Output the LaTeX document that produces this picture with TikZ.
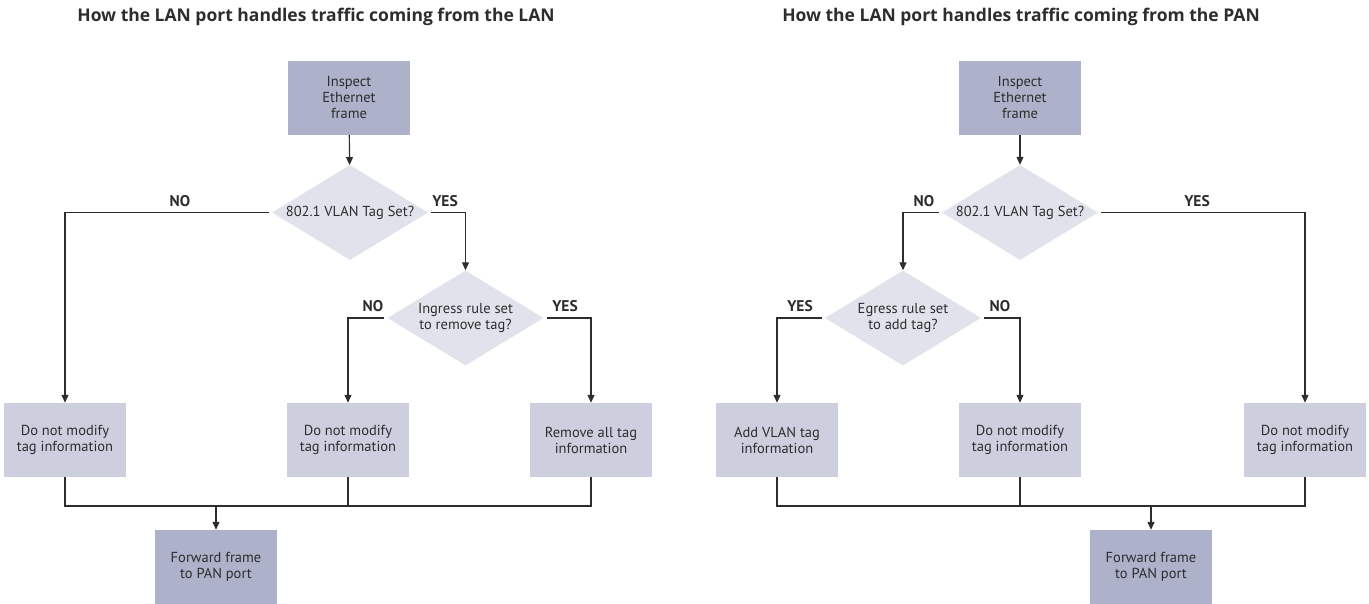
\documentclass[tikz,border=0pt]{standalone}
\usepackage{fontspec}
\setmainfont{PT Sans}
\newfontfamily\headfont{Open Sans}
\usetikzlibrary{shapes.geometric,arrows.meta}
\definecolor{inkgray}{HTML}{2D2D2D}
\definecolor{stepdark}{HTML}{ADB1C9}
\definecolor{steplight}{HTML}{CDCFDF}
\definecolor{askfill}{HTML}{E1E3EC}

\begin{document}
\begin{tikzpicture}[x=1pt,y=-1pt,
  darkbox/.style={fill=stepdark,minimum width=122pt,minimum height=74pt,inner sep=0pt,align=center,font=\fontsize{14.5}{16}\selectfont},
  lightbox/.style={fill=steplight,minimum width=122pt,minimum height=74pt,inner sep=0pt,align=center,font=\fontsize{14.5}{16}\selectfont},
  ask/.style={diamond,fill=askfill,aspect=1.63,minimum width=156pt,minimum height=95pt,inner sep=0pt,align=center,font=\fontsize{14.5}{16}\selectfont},
  answer/.style={anchor=base,font=\fontsize{15.5}{18}\bfseries\selectfont},
  heading/.style={anchor=base,font=\headfont\fontsize{17.5}{21}\bfseries\selectfont},
  flow/.style={draw=inkgray,line width=1.2pt},
  flowarrow/.style={flow,-{Triangle[length=8pt,width=7pt]}},
  every node/.style={text=inkgray}]
\useasboundingbox (0,0) rectangle (1369,604);

% traffic from the LAN
\draw (316,22) node[heading](titleL) {How the LAN port handles traffic coming from the LAN};
\draw (349,98) node[darkbox](inspL) {Inspect\\Ethernet\\frame};
\draw (350,212.5) node[ask](qL) {802.1 VLAN Tag Set?};
\draw (465.5,318) node[ask](ruleL) {Ingress rule set\\to remove tag?};
\draw (65,440) node[lightbox](keepLa) {Do not modify\\tag information};
\draw (348,440) node[lightbox](keepLb) {Do not modify\\tag information};
\draw (591,440) node[lightbox](stripL) {Remove all tag\\information};
\draw (216,567) node[darkbox](fwdL) {Forward frame\\to PAN port};
\draw (180,207) node[answer](noLa) {NO};
\draw (445,207) node[answer](yesLa) {YES};
\draw (373,312) node[answer](noLb) {NO};
\draw (565,312) node[answer](yesLb) {YES};
\coordinate (joinL) at (216,506);
\draw[flowarrow] (inspL) -- (qL);
\draw[flowarrow,shorten <=3pt] (qL.west) -| (keepLa);
\draw[flowarrow,shorten <=3pt] (qL.east) -| (ruleL);
\draw[flowarrow,shorten <=3pt] (ruleL.west) -| (keepLb);
\draw[flowarrow,shorten <=3pt] (ruleL.east) -| (stripL);
\draw[flow] (keepLa) |- (joinL) -| (stripL);
\draw[flow] (keepLb) -- (keepLb |- joinL);
\draw[flowarrow] (joinL) -- (fwdL);

% traffic from the PAN
\draw (1021,22) node[heading](titleR) {How the LAN port handles traffic coming from the PAN};
\draw (1020,98) node[darkbox](inspR) {Inspect\\Ethernet\\frame};
\draw (1020,212.5) node[ask](qR) {802.1 VLAN Tag Set?};
\draw (903,318) node[ask](ruleR) {Egress rule set\\to add tag?};
\draw (777,440) node[lightbox](addR) {Add VLAN tag\\information};
\draw (1020,440) node[lightbox](keepRa) {Do not modify\\tag information};
\draw (1305,440) node[lightbox](keepRb) {Do not modify\\tag information};
\draw (1151,567) node[darkbox](fwdR) {Forward frame\\to PAN port};
\draw (924,207) node[answer](noRa) {NO};
\draw (1197,207) node[answer](yesRa) {YES};
\draw (800,312) node[answer](yesRb) {YES};
\draw (1000,312) node[answer](noRb) {NO};
\coordinate (joinR) at (1151,506);
\draw[flowarrow] (inspR) -- (qR);
\draw[flowarrow,shorten <=3pt] (qR.west) -| (ruleR);
\draw[flowarrow,shorten <=3pt] (qR.east) -| (keepRb);
\draw[flowarrow,shorten <=3pt] (ruleR.west) -| (addR);
\draw[flowarrow,shorten <=3pt] (ruleR.east) -| (keepRa);
\draw[flow] (addR) |- (joinR) -| (keepRb);
\draw[flow] (keepRa) -- (keepRa |- joinR);
\draw[flowarrow] (joinR) -- (fwdR);
\end{tikzpicture}
\end{document}
